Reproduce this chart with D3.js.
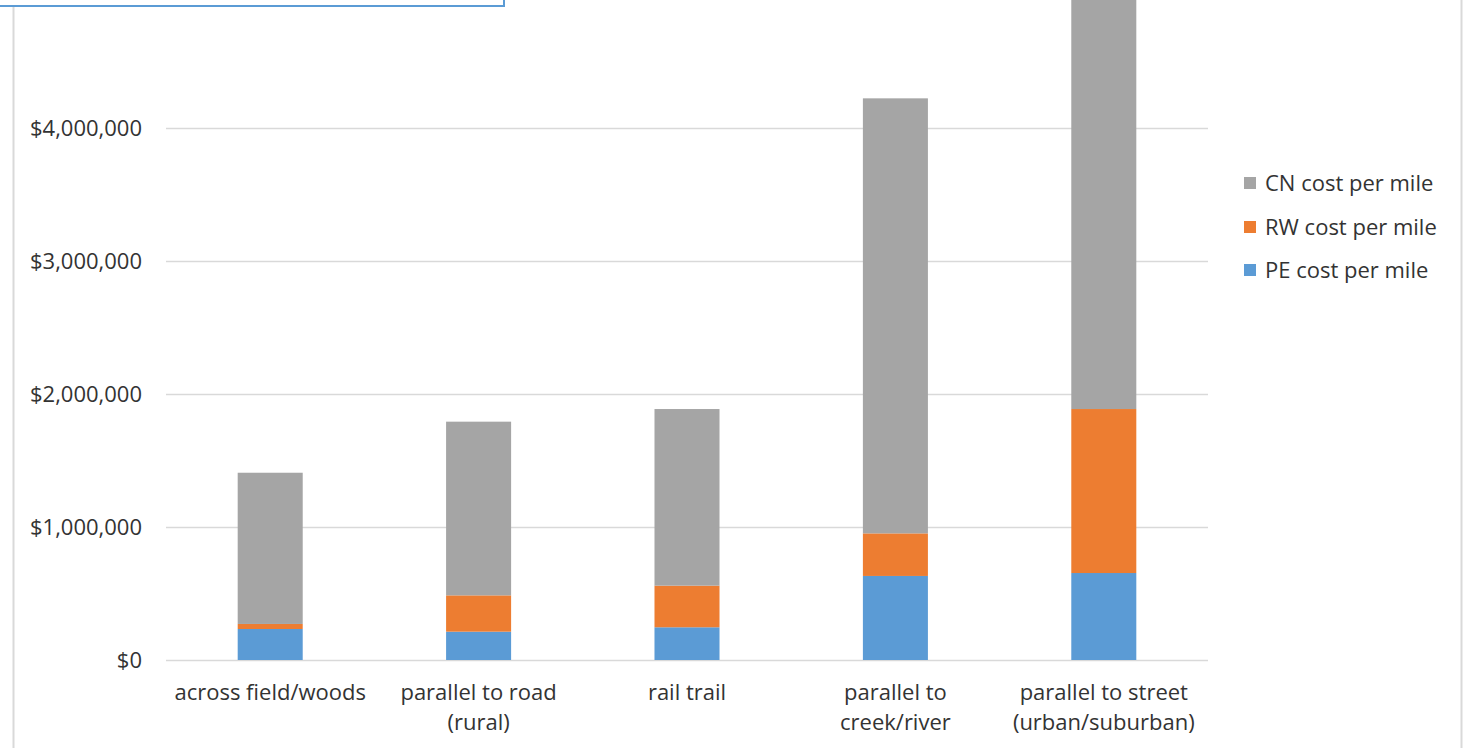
<!DOCTYPE html>
<html>
<head>
<meta charset="utf-8">
<script src="https://cdn.jsdelivr.net/npm/d3@7"></script>
<style>
  body { margin: 0; background: #fff; }
  text { font-family: "Open Sans", "Noto Sans", sans-serif; fill: #333; }
</style>
</head>
<body>
<div id="chart"></div>
<script>
// Data
var categories = ["across field/woods", "parallel to road\n(rural)", "rail trail", "parallel to\ncreek/river", "parallel to street\n(urban/suburban)"];
var seriesNames = ["PE cost per mile", "RW cost per mile", "CN cost per mile"];
var peCost = [233000, 213000, 246000, 632000, 654000];
var rwCost = [38000, 273000, 313000, 320000, 1233000];
var cnCost = [1137000, 1306000, 1328000, 3271000, 3313000];
var yTicks = [0, 1000000, 2000000, 3000000, 4000000];
var colors = ["#5b9bd5", "#ed7d31", "#a5a5a5"];

var W = 1468, H = 748;
var plot = { left: 166, right: 1208, top: 0, bottom: 660 };
var fs = "22px";

var svg = d3.select("#chart").append("svg")
    .attr("width", W)
    .attr("height", H);

// frame pieces
svg.append("line").attr("x1", 13.5).attr("x2", 13.5).attr("y1", 6).attr("y2", H)
    .attr("stroke", "#d9d9d9").attr("stroke-width", 2);
svg.append("line").attr("x1", 1461.5).attr("x2", 1461.5).attr("y1", 0).attr("y2", H)
    .attr("stroke", "#d9d9d9").attr("stroke-width", 2);

// Scales
var x = d3.scaleBand().domain(categories).range([plot.left, plot.right]).padding(0);
var y = d3.scaleLinear().domain([0, 1000000]).range([plot.bottom, plot.bottom - 133]);
var barW = x.bandwidth() * 0.312;

// Grid lines
svg.append("g").selectAll("line").data(yTicks).enter().append("line")
    .attr("x1", plot.left).attr("x2", plot.right)
    .attr("y1", d => Math.round(y(d)) + 0.5).attr("y2", d => Math.round(y(d)) + 0.5)
    .attr("stroke", "#d9d9d9").attr("stroke-width", 1.3);

// Y labels
svg.append("g").selectAll("text").data(yTicks).enter().append("text")
    .attr("x", 142).attr("y", d => y(d)).attr("dy", "0.35em")
    .attr("text-anchor", "end")
    .style("font-size", fs)
    .text(d => d3.format("$,")(d));

// Stack
var rows = categories.map(function(c, i) {
    return { cat: c, pe: peCost[i], rw: rwCost[i], cn: cnCost[i] };
});
var stack = d3.stack().keys(["pe", "rw", "cn"])(rows);

svg.append("clipPath").attr("id", "clip")
    .append("rect").attr("x", plot.left).attr("y", 0).attr("width", plot.right - plot.left).attr("height", plot.bottom);

var bars = svg.append("g").attr("clip-path", "url(#clip)");
stack.forEach(function(layer, k) {
    bars.append("g").selectAll("rect").data(layer).enter().append("rect")
        .attr("x", d => x(d.data.cat) + (x.bandwidth() - barW) / 2)
        .attr("y", d => y(d[1]))
        .attr("width", barW)
        .attr("height", d => y(d[0]) - y(d[1]))
        .attr("fill", colors[k]);
});

// X labels
var xl = svg.append("g").selectAll("text").data(categories).enter().append("text")
    .attr("x", d => x(d) + x.bandwidth() / 2)
    .attr("y", 700)
    .attr("text-anchor", "middle")
    .style("font-size", fs);
xl.each(function(d) {
    var t = d3.select(this);
    d.split("\n").forEach(function(s, i) {
        t.append("tspan").attr("x", x(d) + x.bandwidth() / 2).attr("dy", i ? 30 : 0).text(s);
    });
});

// Legend (reverse order like Excel)
var legendY = [183, 227, 270];
var leg = svg.append("g").selectAll("g").data([2, 1, 0]).enter().append("g")
    .attr("transform", (d, i) => `translate(1244, ${legendY[i]})`);
leg.append("rect").attr("x", 0).attr("y", -6).attr("width", 12).attr("height", 12)
    .attr("fill", d => colors[d]);
leg.append("text").attr("x", 21).attr("dy", "0.35em")
    .style("font-size", fs)
    .text(d => seriesNames[d]);

// title box edge at top-left
svg.append("rect").attr("x", -5).attr("y", -10).attr("width", 509).attr("height", 16)
    .attr("fill", "#fff").attr("stroke", "#5b9bd5").attr("stroke-width", 2);
</script>
</body>
</html>
